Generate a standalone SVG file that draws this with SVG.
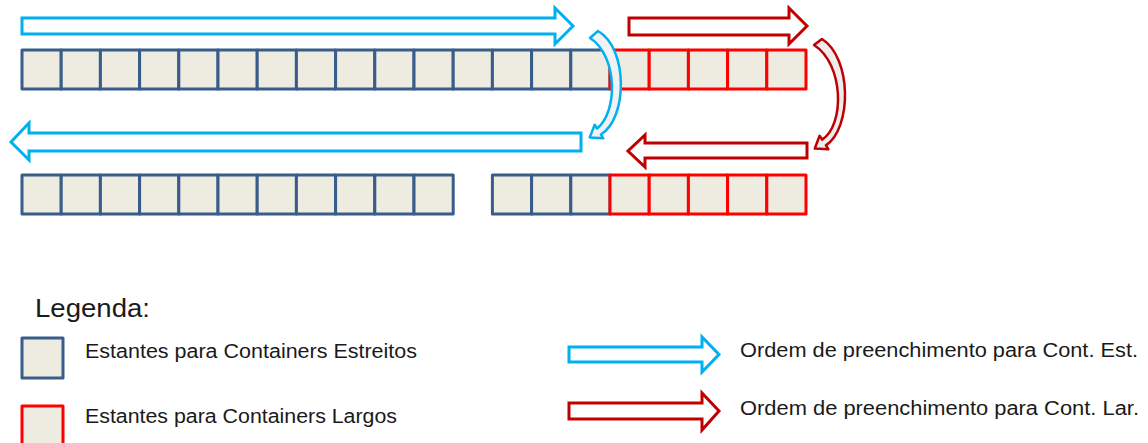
<svg xmlns="http://www.w3.org/2000/svg" width="1148" height="443" viewBox="0 0 1148 443">
<style>
.nb{fill:#EEECE1;stroke:#385D8A;stroke-width:3;stroke-linejoin:round}
.nr{fill:#EEECE1;stroke:#FF0000;stroke-width:3;stroke-linejoin:round}
.ac{fill:#FFFFFF;stroke:#00B0F0;stroke-width:3;stroke-linejoin:miter}
.ar{fill:#FFFFFF;stroke:#C00000;stroke-width:3;stroke-linejoin:miter}
.cc{fill:#F2F2F2;stroke:#00B0F0;stroke-width:2.5;stroke-linejoin:round}
.cr{fill:#EDEDED;stroke:#C00000;stroke-width:2.5;stroke-linejoin:round}
.t{font-family:"Liberation Sans",Arial,sans-serif;fill:#1A1A1A}
</style>
<defs>
<rect id="cb" class="nb" width="39.2" height="39"/>
<rect id="cr" class="nr" width="39.2" height="39"/>
</defs>
<rect width="1148" height="443" fill="#FFFFFF"/>

<g id="row1-narrow">
<use href="#cb" x="22" y="50"/><use href="#cb" x="61.2" y="50"/><use href="#cb" x="100.4" y="50"/><use href="#cb" x="139.6" y="50"/><use href="#cb" x="178.8" y="50"/><use href="#cb" x="218" y="50"/><use href="#cb" x="257.2" y="50"/><use href="#cb" x="296.4" y="50"/><use href="#cb" x="335.6" y="50"/><use href="#cb" x="374.8" y="50"/><use href="#cb" x="414" y="50"/><use href="#cb" x="453.2" y="50"/><use href="#cb" x="492.4" y="50"/><use href="#cb" x="531.6" y="50"/><use href="#cb" x="570.8" y="50"/>
</g>
<g id="row1-wide">
<use href="#cr" x="610" y="50"/><use href="#cr" x="649.2" y="50"/><use href="#cr" x="688.4" y="50"/><use href="#cr" x="727.6" y="50"/><use href="#cr" x="766.8" y="50"/>
</g>
<g id="row2-narrow-left">
<use href="#cb" x="22" y="175"/><use href="#cb" x="61.2" y="175"/><use href="#cb" x="100.4" y="175"/><use href="#cb" x="139.6" y="175"/><use href="#cb" x="178.8" y="175"/><use href="#cb" x="218" y="175"/><use href="#cb" x="257.2" y="175"/><use href="#cb" x="296.4" y="175"/><use href="#cb" x="335.6" y="175"/><use href="#cb" x="374.8" y="175"/><use href="#cb" x="414" y="175"/>
</g>
<g id="row2-narrow-right">
<use href="#cb" x="492.4" y="175"/><use href="#cb" x="531.6" y="175"/><use href="#cb" x="570.8" y="175"/>
</g>
<g id="row2-wide">
<use href="#cr" x="610" y="175"/><use href="#cr" x="649.2" y="175"/><use href="#cr" x="688.4" y="175"/><use href="#cr" x="727.6" y="175"/><use href="#cr" x="766.8" y="175"/>
</g>

<g id="connectors">
<polygon class="ac" points="22,18 555,18 555,8 573,26 555,44 555,34 22,34"/>
<polygon class="ar" points="629,18 789,18 789,8 807,26 789,44 789,35 629,35"/>
<polygon class="ac" points="581,133 29,133 29,123 11,142 29,160 29,151 581,151"/>
<polygon class="ar" points="807,143 645,143 645,135 628,151 645,167 645,158 807,158"/>
<path class="cc" d="M590,38 L598,31 C628,48 628,118 600.9,134.5 L603.3,138.3 L589.7,137.4 L594.7,124.7 L597.1,128.5 C618,112 618,56 590,38 Z"/>
<path class="cr" d="M814,45 L822,39 C852,58 852,128 825.9,145.4 L828.4,149.2 L814.8,148.5 L819.6,135.8 L822.1,139.6 C845,125 844,64 814,45 Z"/>
</g>

<g id="legend">
<text class="t" x="35" y="317" font-size="25" textLength="115" lengthAdjust="spacingAndGlyphs" fill="#262626">Legenda:</text>
<g id="legend-narrow">
<rect class="nb" x="22" y="338" width="41" height="40"/>
<text class="t" x="85" y="358" font-size="20" textLength="332" lengthAdjust="spacingAndGlyphs">Estantes para Containers Estreitos</text>
</g>
<g id="legend-wide">
<rect class="nr" x="22" y="406" width="41" height="40"/>
<text class="t" x="85" y="423" font-size="20" textLength="312" lengthAdjust="spacingAndGlyphs">Estantes para Containers Largos</text>
</g>
<g id="legend-order-narrow">
<polygon class="ac" points="569,347 702,347 702,337 719,354.5 702,372 702,362 569,362"/>
<text class="t" x="740" y="357" font-size="20" textLength="398" lengthAdjust="spacingAndGlyphs">Ordem de preenchimento para Cont. Est.</text>
</g>
<g id="legend-order-wide">
<polygon class="ar" points="569,403 702,403 702,393 719,411 702,430 702,419 569,419"/>
<text class="t" x="740" y="415" font-size="20" textLength="399" lengthAdjust="spacingAndGlyphs">Ordem de preenchimento para Cont. Lar.</text>
</g>
</g>
</svg>
